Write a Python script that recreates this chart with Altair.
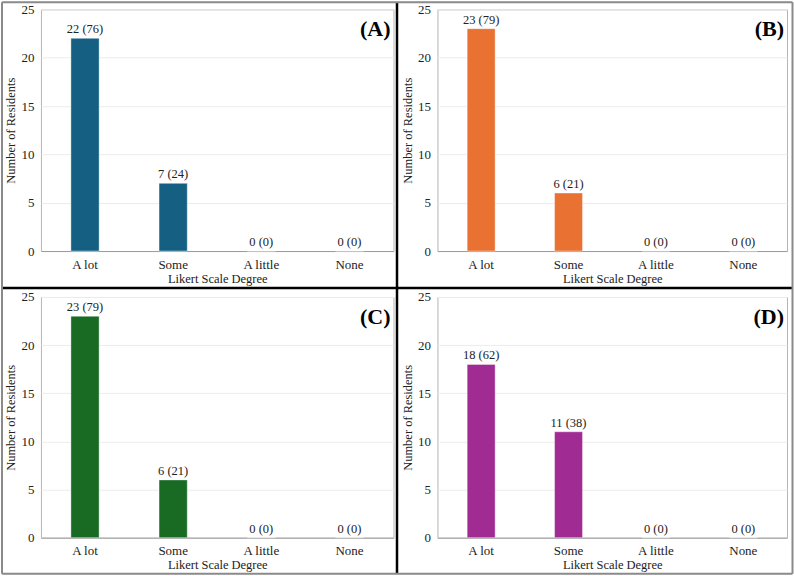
import altair as alt
import pandas as pd

categories = ["A lot", "Some", "A little", "None"]
counts_a = [22, 7, 0, 0]
pct_a = [76, 24, 0, 0]
counts_b = [23, 6, 0, 0]
pct_b = [79, 21, 0, 0]
counts_c = [23, 6, 0, 0]
pct_c = [79, 21, 0, 0]
counts_d = [18, 11, 0, 0]
pct_d = [62, 38, 0, 0]
tags = ["(A)", "(B)", "(C)", "(D)"]
colors = ["#156082", "#E97132", "#196B24", "#A02B93"]

FONT = "Liberation Serif"


def panel(counts, pcts, color, tag, w, h):
    df = pd.DataFrame({
        "cat": categories,
        "n": counts,
        "lab": [f"{c} ({p})" for c, p in zip(counts, pcts)],
    })
    base = alt.Chart(df)
    x = alt.X("cat:N", sort=categories,
              scale=alt.Scale(paddingInner=0.68, paddingOuter=0.34),
              axis=alt.Axis(title="Likert Scale Degree", labelAngle=0, ticks=False,
                            domain=True, domainColor="#9a9a9a", labelPadding=7,
                            titlePadding=1, labelFont=FONT, titleFont=FONT,
                            labelFontSize=13, titleFontSize=12.5,
                            titleFontWeight="normal", labelColor="#222",
                            titleColor="#222"))
    y = alt.Y("n:Q", scale=alt.Scale(domain=[0, 25], nice=False),
              axis=alt.Axis(title="Number of Residents", values=[0, 5, 10, 15, 20, 25],
                            ticks=False, domain=False, grid=True, gridColor="#ececec",
                            labelPadding=7, titlePadding=3, labelFont=FONT,
                            titleFont=FONT, labelFontSize=13, titleFontSize=12.5,
                            titleFontWeight="normal", labelColor="#222",
                            titleColor="#222"))
    bars = base.mark_bar(color=color, stroke="#ffffff", strokeWidth=0.4).encode(x=x, y=y)
    text = base.mark_text(font=FONT, fontSize=12.5, baseline="bottom", dy=-2,
                          color="#222").encode(x=alt.X("cat:N", sort=categories),
                                               y="n:Q", text="lab:N")
    tagdf = pd.DataFrame({"t": [tag]})
    tagm = alt.Chart(tagdf).mark_text(font=FONT, fontSize=22, fontWeight="bold",
                                      align="right", baseline="middle",
                                      color="#000").encode(
        x=alt.value(w - 3), y=alt.value(20), text="t:N")
    return alt.layer(bars, text, tagm).properties(width=w, height=h)


def frame_lines():
    one = pd.DataFrame({"a": [0]})
    c = alt.Chart(one)
    # thick black dividers (relative to panel A plot origin at 40,8)
    vdiv = c.mark_rule(color="#000", strokeWidth=2.5).encode(
        x=alt.value(356.5), y=alt.value(-6.75), y2=alt.value(565))
    hdiv = c.mark_rule(color="#000", strokeWidth=2.5).encode(
        x=alt.value(-38.75), x2=alt.value(752), y=alt.value(279))
    # thin grey outer border
    left = c.mark_rule(color="#8a8a8a", strokeWidth=2).encode(
        x=alt.value(-39), y=alt.value(-7), y2=alt.value(565))
    right = c.mark_rule(color="#8a8a8a", strokeWidth=2).encode(
        x=alt.value(752.5), y=alt.value(-7), y2=alt.value(565))
    top = c.mark_rule(color="#8a8a8a", strokeWidth=2).encode(
        x=alt.value(-39), x2=alt.value(752.5), y=alt.value(-7))
    bottom = c.mark_rule(color="#8a8a8a", strokeWidth=2).encode(
        x=alt.value(-39), x2=alt.value(752.5), y=alt.value(565))
    return [vdiv, hdiv, left, right, top, bottom]


pa = panel(counts_a, pct_a, colors[0], tags[0], 353, 242)
pa = alt.layer(pa, *frame_lines()).properties(width=353, height=242)
pb = panel(counts_b, pct_b, colors[1], tags[1], 350, 242)
pc = panel(counts_c, pct_c, colors[2], tags[2], 353, 241)
pd_ = panel(counts_d, pct_d, colors[3], tags[3], 350, 241)

chart = alt.concat(pa, pb, pc, pd_, columns=2,
                   spacing={"row": 46, "column": 44}, bounds="flush").properties(
    padding=0, background="white"
).configure_view(stroke="#b5b5b5", strokeWidth=1)

chart.save("out.html", embed_options={"renderer": "svg", "actions": False})
